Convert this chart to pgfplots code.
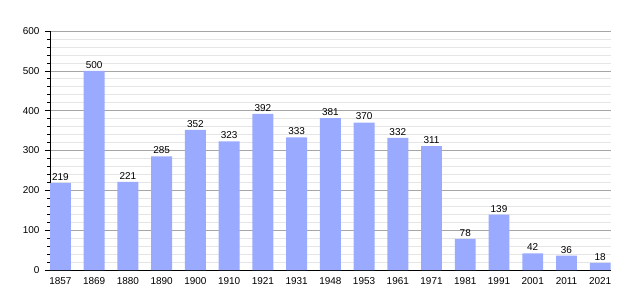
\documentclass[border=0pt]{standalone}
\usepackage{pgfplots}
\pgfplotsset{compat=1.18}
\usepackage{fontspec}
\setmainfont{Liberation Sans}
\definecolor{barblue}{RGB}{153,170,255}
\begin{document}
\begin{tikzpicture}
\begin{axis}[
  at={(0,0)}, anchor=south west,
  scale only axis, width=561bp, height=239bp,
  xmin=-0.31, xmax=16.32, ymin=0, ymax=600,
  axis x line=bottom, axis y line=left,
  axis line style={-, black, line width=1pt},
  xtick={0,...,16},
  xticklabels={1857,1869,1880,1890,1900,1910,1921,1931,1948,1953,1961,1971,1981,1991,2001,2011,2021},
  xtick style={draw=none},
  ytick={0,100,...,600},
  minor ytick={20,40,...,580},
  tick align=outside,
  major tick length=5bp, minor tick length=3bp,
  ytick style={black, line width=0.6pt},
  minor tick style={black, line width=0.6pt},
  ymajorgrids, yminorgrids,
  major grid style={gray!70, line width=0.6pt},
  minor grid style={gray!20, line width=0.6pt},
  tick label style={font=\fontsize{10}{12}\selectfont},
  /pgf/number format/assume math mode=true,
  yticklabel style={xshift=-2bp},
  xticklabel style={yshift=1bp},
  ybar, bar width=0.62,
  nodes near coords,
  every node near coord/.append style={font=\fontsize{10}{12}\selectfont, black, yshift=-1bp},
  clip=false,
]
\addplot[fill=barblue, draw=none] coordinates {
(0,219) (1,500) (2,221) (3,285) (4,352) (5,323) (6,392) (7,333)
(8,381) (9,370) (10,332) (11,311) (12,78) (13,139) (14,42) (15,36) (16,18)};
\end{axis}
\pgfresetboundingbox
\useasboundingbox (-50bp,-30bp) rectangle (590bp,270bp);
\end{tikzpicture}
\end{document}
